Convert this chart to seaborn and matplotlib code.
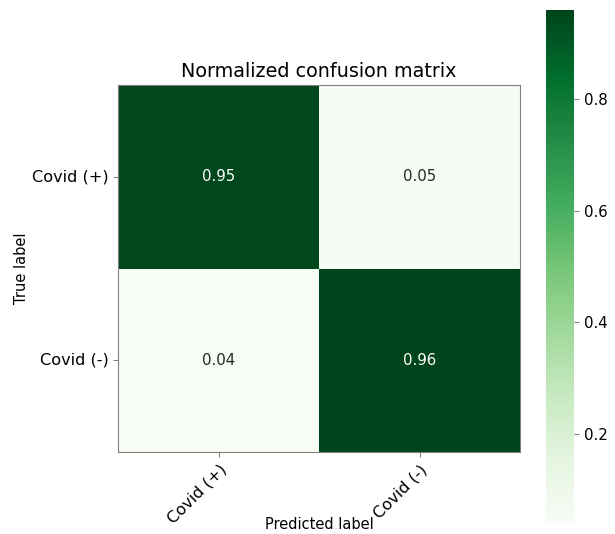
import matplotlib
matplotlib.use("Agg")
import matplotlib.pyplot as plt
import seaborn as sns
import numpy as np
import pandas as pd

# data
classes = ["Covid (+)", "Covid (-)"]
row_pos = [0.95, 0.05]   # true Covid (+)
row_neg = [0.04, 0.96]   # true Covid (-)

cm = pd.DataFrame([row_pos, row_neg], index=classes, columns=classes)

fig = plt.figure(figsize=(6.15, 5.34), dpi=100)
ax = fig.add_axes([0.192, 0.1536, 0.654, 0.687])
cax = fig.add_axes([0.888, 0.0206, 0.0455, 0.961])

sns.heatmap(cm, annot=True, fmt=".2f", cmap="Greens", ax=ax, cbar_ax=cax,
            annot_kws={"fontsize": 10.8}, linewidths=0)

for side in ax.spines.values():
    side.set_visible(True)
    side.set_color("gray")
cbar = ax.collections[0].colorbar
cbar.outline.set_visible(True)
cbar.outline.set_edgecolor("gray")
cbar.ax.tick_params(labelsize=10.8, color="gray", length=3.5)

ax.set_title("Normalized confusion matrix", fontsize=13.8)
ax.set_xticklabels(classes, rotation=45, ha="right", rotation_mode="anchor",
                   fontsize=11.6)
ax.set_yticklabels(classes, rotation=0, fontsize=11.6)
ax.tick_params(color="gray", length=3.5)
ax.set_ylabel("True label", fontsize=10.5)
ax.yaxis.set_label_coords(-0.222, 0.5)
ax.set_xlabel("Predicted label", fontsize=10.5)
ax.xaxis.set_label_coords(0.5, -0.178)

fig.savefig("out.png", dpi=100)
